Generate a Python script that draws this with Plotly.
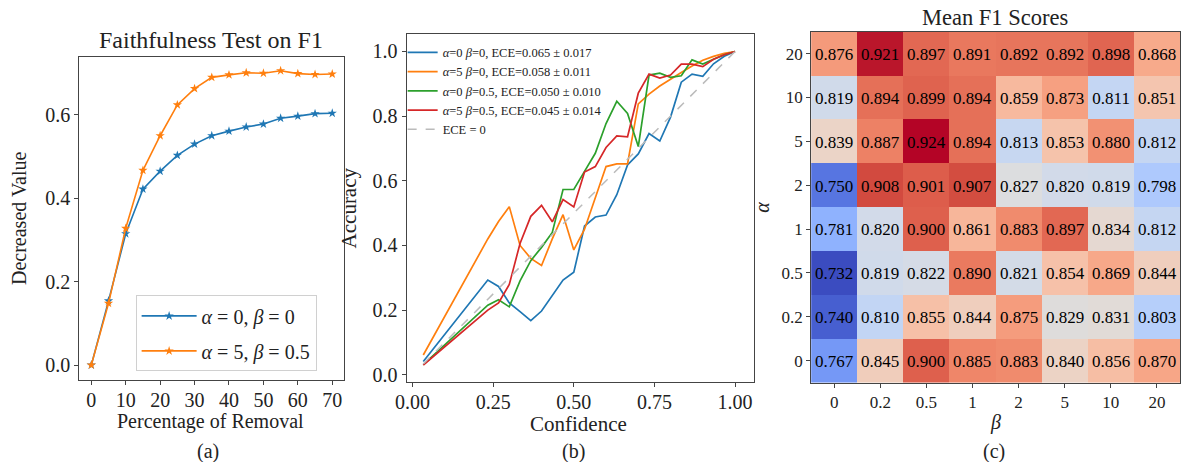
import plotly.graph_objects as go

W, H = 1181, 462
SERIF = "Liberation Serif"

# ---------- Panel (a) data ----------
removal_pct = [0, 5, 10, 15, 20, 25, 30, 35, 40, 45, 50, 55, 60, 65, 70]
dec_a0_b0 = [0.0, 0.154, 0.315, 0.422, 0.465, 0.503, 0.530, 0.550, 0.561, 0.571, 0.578, 0.592, 0.597, 0.603, 0.604]
dec_a5_b05 = [0.0, 0.148, 0.328, 0.467, 0.550, 0.624, 0.663, 0.690, 0.696, 0.701, 0.700, 0.706, 0.699, 0.697, 0.698]

# ---------- Panel (b) data ----------
confidence = [1/30] + [k/30 for k in range(7, 31)]
acc_a0_b0 = [0.041, 0.293, 0.273, 0.222, 0.195, 0.167, 0.197, 0.245, 0.293, 0.317, 0.460, 0.488, 0.494,
             0.557, 0.649, 0.683, 0.746, 0.723, 0.797, 0.905, 0.930, 0.923, 0.962, 0.985, 1.0]
acc_a5_b0 = [0.061, 0.420, 0.474, 0.520, 0.400, 0.360, 0.338, 0.420, 0.495, 0.386, 0.450, 0.550, 0.644,
             0.652, 0.652, 0.838, 0.868, 0.893, 0.915, 0.935, 0.955, 0.973, 0.985, 0.994, 1.0]
acc_a0_b05 = [0.031, 0.215, 0.232, 0.210, 0.290, 0.353, 0.394, 0.440, 0.573, 0.573, 0.629, 0.685, 0.777,
              0.846, 0.808, 0.706, 0.927, 0.933, 0.920, 0.925, 0.974, 0.961, 0.976, 0.990, 1.0]
acc_a5_b05 = [0.030, 0.200, 0.222, 0.279, 0.406, 0.490, 0.524, 0.473, 0.542, 0.519, 0.627, 0.644, 0.703,
              0.739, 0.736, 0.871, 0.930, 0.918, 0.927, 0.961, 0.961, 0.953, 0.976, 0.990, 1.0]
calib_labels = ["<i>α</i>=0 <i>β</i>=0, ECE=0.065 ± 0.017",
                "<i>α</i>=5 <i>β</i>=0, ECE=0.058 ± 0.011",
                "<i>α</i>=0 <i>β</i>=0.5, ECE=0.050 ± 0.010",
                "<i>α</i>=5 <i>β</i>=0.5, ECE=0.045 ± 0.014"]

# ---------- Panel (c) data ----------
beta_labels = ["0", "0.2", "0.5", "1", "2", "5", "10", "20"]
alpha_labels = ["0", "0.2", "0.5", "1", "2", "5", "10", "20"]  # bottom -> top
f1_scores = [  # rows alpha bottom -> top, columns beta
    [0.767, 0.845, 0.900, 0.885, 0.883, 0.840, 0.856, 0.870],  # 0
    [0.740, 0.810, 0.855, 0.844, 0.875, 0.829, 0.831, 0.803],  # 0.2
    [0.732, 0.819, 0.822, 0.890, 0.821, 0.854, 0.869, 0.844],  # 0.5
    [0.781, 0.820, 0.900, 0.861, 0.883, 0.897, 0.834, 0.812],  # 1
    [0.750, 0.908, 0.901, 0.907, 0.827, 0.820, 0.819, 0.798],  # 2
    [0.839, 0.887, 0.924, 0.894, 0.813, 0.853, 0.880, 0.812],  # 5
    [0.819, 0.894, 0.899, 0.894, 0.859, 0.873, 0.811, 0.851],  # 10
    [0.876, 0.921, 0.897, 0.891, 0.892, 0.892, 0.898, 0.868],  # 20
]

coolwarm_rgb = [(59,76,192),(68,90,204),(77,104,215),(87,117,225),(98,130,234),(108,142,241),
                (119,154,247),(130,165,251),(141,176,254),(152,185,255),(163,194,255),(174,201,253),
                (184,208,249),(194,213,244),(204,217,238),(213,219,230),(221,221,221),(229,216,209),
                (236,211,197),(241,204,185),(245,196,173),(247,187,160),(247,177,148),(247,166,135),
                (244,154,123),(241,141,111),(236,127,99),(229,112,88),(222,96,77),(213,80,66),
                (203,62,56),(192,40,47),(180,4,38)]
coolwarm = [[i/(len(coolwarm_rgb)-1), "rgb(%d,%d,%d)" % c] for i, c in enumerate(coolwarm_rgb)]

BLUE, ORANGE, GREEN, RED = "#1f77b4", "#ff7f0e", "#2ca02c", "#d62728"

def px_x(p):
    return p / W

def px_y(p):
    return 1 - p / H

fig = go.Figure()

# Panel (a)
fig.add_trace(go.Scatter(x=removal_pct, y=dec_a0_b0, mode="lines+markers",
                         line=dict(color=BLUE, width=1.6), marker=dict(symbol="star", size=7, color=BLUE),
                         name="<i>α</i> = 0, <i>β</i> = 0", xaxis="x", yaxis="y",
                         legend="legend", legendgroup="a1"))
fig.add_trace(go.Scatter(x=removal_pct, y=dec_a5_b05, mode="lines+markers",
                         line=dict(color=ORANGE, width=1.6), marker=dict(symbol="star", size=7, color=ORANGE),
                         name="<i>α</i> = 5, <i>β</i> = 0.5", xaxis="x", yaxis="y",
                         legend="legend", legendgroup="a2"))

# Panel (b)
for ys, col, lab in zip([acc_a0_b0, acc_a5_b0, acc_a0_b05, acc_a5_b05],
                        [BLUE, ORANGE, GREEN, RED], calib_labels):
    fig.add_trace(go.Scatter(x=confidence, y=ys, mode="lines", line=dict(color=col, width=1.7),
                             name=lab, xaxis="x2", yaxis="y2", legend="legend2"))
fig.add_trace(go.Scatter(x=confidence, y=confidence, mode="lines",
                         line=dict(color="#bbbbbb", width=1.5, dash="dash"),
                         name="ECE = 0", xaxis="x2", yaxis="y2", legend="legend2"))

# Panel (c)
fig.add_trace(go.Heatmap(z=f1_scores, x=beta_labels, y=alpha_labels, colorscale=coolwarm,
                         zmin=0.732, zmax=0.924, showscale=False, xgap=0, ygap=0,
                         texttemplate="%{z:.3f}", textfont=dict(family=SERIF, size=17, color="black"),
                         xaxis="x3", yaxis="y3", hoverinfo="skip"))

axis_common = dict(showline=True, mirror=True, linecolor="#444", linewidth=1, ticks="outside",
                   ticklen=4, tickcolor="#444", showgrid=False, zeroline=False,
                   tickfont=dict(family=SERIF, size=20, color="#222"))

fig.update_layout(
    width=W, height=H, margin=dict(l=0, r=0, t=0, b=0),
    paper_bgcolor="white", plot_bgcolor="white",
    font=dict(family=SERIF, color="#222"),
    xaxis=dict(domain=[px_x(68), px_x(336)], range=[-3.5, 73.5], tickvals=list(range(0, 71, 10)),
               anchor="y", ticklabelstandoff=-2, **axis_common),
    yaxis=dict(domain=[px_y(383), px_y(57)], range=[-0.035, 0.74], tickvals=[0, 0.2, 0.4, 0.6],
               tickformat=".1f", anchor="x", **axis_common),
    xaxis2=dict(domain=[px_x(399), px_x(750)], range=[-0.0184, 1.058], tickvals=[0, 0.25, 0.5, 0.75, 1.0],
                tickformat=".2f", anchor="y2", ticklabelstandoff=-2, **axis_common),
    yaxis2=dict(domain=[px_y(385), px_y(34)], range=[-0.0215, 1.055], tickvals=[0, 0.2, 0.4, 0.6, 0.8, 1.0],
                tickformat=".1f", anchor="x2", **axis_common),
    xaxis3=dict(domain=[px_x(808), 1.0], type="category", anchor="y3",
                **{**axis_common, "tickfont": dict(family=SERIF, size=17, color="#222")}),
    yaxis3=dict(domain=[px_y(386), px_y(32)], type="category", anchor="x3",
                **{**axis_common, "tickfont": dict(family=SERIF, size=17, color="#222")}),
    legend=dict(x=px_x(125), y=px_y(298), xanchor="left", yanchor="top",
                bgcolor="rgba(255,255,255,0.8)", bordercolor="#d0d0d0", borderwidth=1,
                font=dict(family=SERIF, size=20, color="#222"), itemwidth=55,
                traceorder="grouped", tracegroupgap=6),
    legend2=dict(x=px_x(395), y=px_y(38), xanchor="left", yanchor="top",
                 bgcolor="rgba(255,255,255,0)", borderwidth=0,
                 font=dict(family=SERIF, size=12.5, color="#222"), itemwidth=30),
    showlegend=True,
)

annots = [
    ("Faithfulness Test on F1", 201, 40, 24, 0),
    ("Percentage of Removal", 201, 425, 20, 0),
    ("Decreased Value", 7, 220, 20, -90),
    ("(a)", 198, 455, 20, 0),
    ("Confidence", 573, 428, 21, 0),
    ("Accuracy", 341, 210, 21, -90),
    ("(b)", 568, 455, 20, 0),
    ("Mean F1 Scores", 994, 18, 22.5, 0),
    ("<i>β</i>", 994, 426, 20, 0),
    ("<i>α</i>", 759, 209, 20, -90),
    ("(c)", 993, 455, 20, 0),
]
for txt, xp, yp, size, ang in annots:
    fig.add_annotation(text=txt, x=px_x(xp), y=px_y(yp), xref="paper", yref="paper",
                       xanchor="center", yanchor="middle", showarrow=False, textangle=ang,
                       font=dict(family=SERIF, size=size, color="#222"))

fig.write_html("out.html", config={"displayModeBar": False},
               post_script="document.body.style.margin='0';document.body.style.overflow='hidden';")
